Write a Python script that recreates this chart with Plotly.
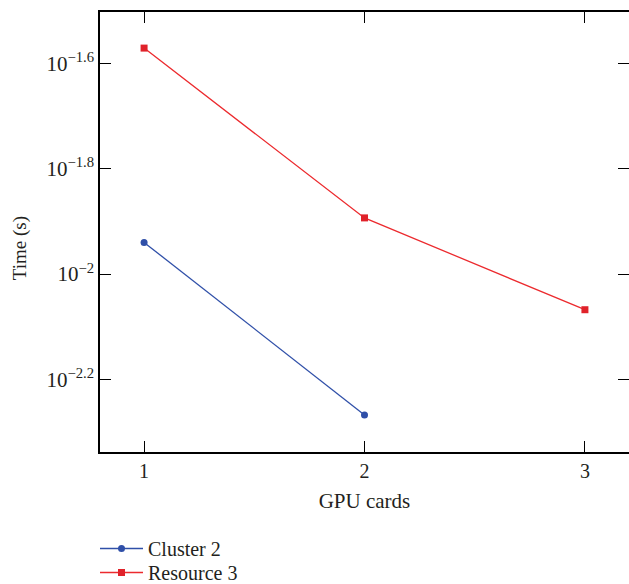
import plotly.graph_objects as go

gpu_cards = [1, 2, 3]
cluster2_x = [1, 2]
cluster2_time = [0.01148, 0.00540]
resource3_x = [1, 2, 3]
resource3_time = [0.02685, 0.01278, 0.008554]
ytick_vals = [10 ** -1.6, 10 ** -1.8, 10 ** -2.0, 10 ** -2.2]
ytick_text = ["10<sup>\u22121.6</sup>", "10<sup>\u22121.8</sup>", "10<sup>\u22122</sup>", "10<sup>\u22122.2</sup>"]

font_family = "Liberation Serif"
text_color = "#231f20"

fig = go.Figure()
fig.add_trace(go.Scatter(
    x=cluster2_x, y=cluster2_time, name="Cluster 2", mode="lines+markers",
    line=dict(color="#2f4fa8", width=1.3),
    marker=dict(symbol="circle", size=7, color="#2f4fa8"),
    legend="legend",
))
fig.add_trace(go.Scatter(
    x=resource3_x, y=resource3_time, name="Resource 3", mode="lines+markers",
    line=dict(color="#ec2a2e", width=1.3),
    marker=dict(symbol="square", size=7, color="#e0222a"),
    legend="legend2",
))

fig.add_annotation(
    text="Time (s)", xref="paper", yref="paper", x=-0.151, y=0.4636,
    xanchor="center", yanchor="middle", textangle=-90, showarrow=False,
    font=dict(family=font_family, size=19, color=text_color),
)

legend_common = dict(
    xref="container", yref="container", xanchor="left", yanchor="top",
    font=dict(family=font_family, size=20, color=text_color),
    itemwidth=43, bgcolor="rgba(0,0,0,0)",
)

fig.update_layout(
    width=629, height=584,
    margin=dict(l=100, r=0, t=12, b=132, autoexpand=False),
    paper_bgcolor="white", plot_bgcolor="white",
    font=dict(family=font_family, size=18, color=text_color),
    showlegend=True,
    legend=dict(x=95 / 629, y=1 - 529 / 584, **legend_common),
    legend2=dict(x=95 / 629, y=1 - 553 / 584, **legend_common),
    xaxis=dict(
        range=[0.8, 3.2], tickvals=gpu_cards, ticktext=[str(v) for v in gpu_cards],
        tickfont=dict(family=font_family, size=20, color=text_color),
        ticks="inside", ticklen=11, tickwidth=1.2, tickcolor="black",
        showline=True, linecolor="black", linewidth=1.5, mirror="ticks",
        showgrid=False, zeroline=False, automargin=False,
        title=dict(text="GPU cards", standoff=13,
                   font=dict(family=font_family, size=21, color=text_color)),
    ),
    yaxis=dict(
        type="log", range=[-2.338, -1.5025],
        tickvals=ytick_vals, ticktext=ytick_text,
        tickfont=dict(family=font_family, size=21, color=text_color),
        ticks="inside", ticklen=11, tickwidth=1.2, tickcolor="black",
        showline=True, linecolor="black", linewidth=1.5, mirror="ticks",
        showgrid=False, zeroline=False, automargin=False,
    ),
)

fig.write_html("out.html")
